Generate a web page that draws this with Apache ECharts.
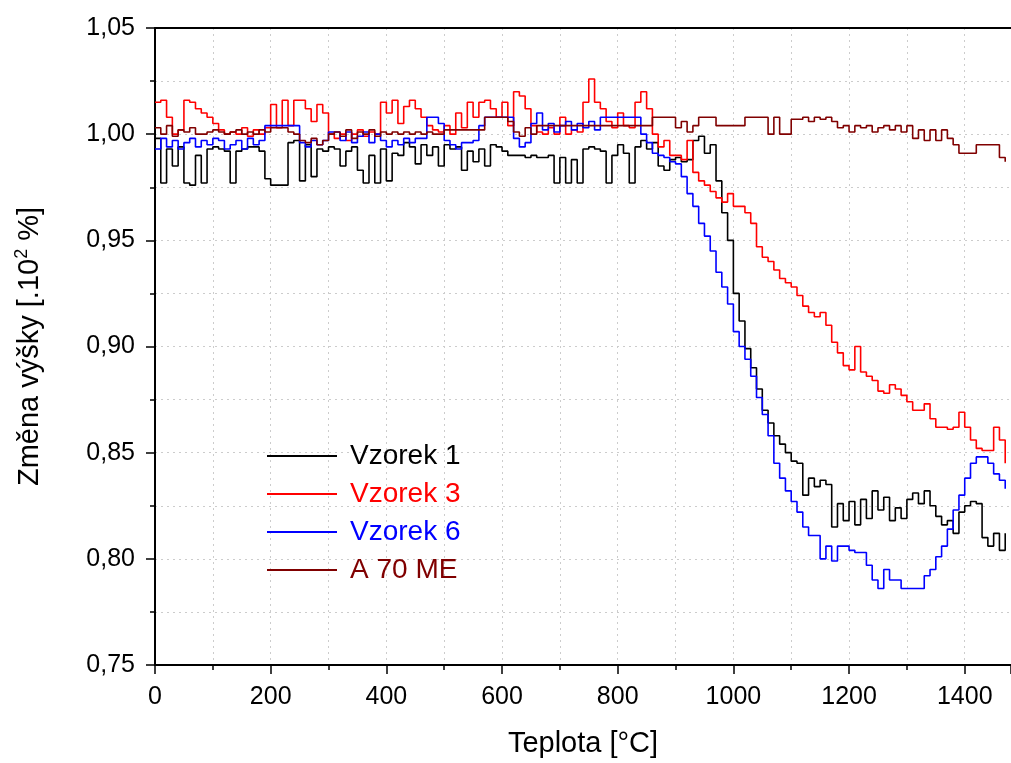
<!DOCTYPE html>
<html><head><meta charset="utf-8">
<script src="https://cdn.jsdelivr.net/npm/echarts@6/dist/echarts.min.js"></script>
<style>html,body{margin:0;padding:0;background:#fff}#c{width:1011px;height:763px}</style>
</head><body><div id="c"></div>
<script>
const temps = [0,10,20,30,40,50,60,70,80,90,100,110,120,130,140,150,160,170,180,190,200,210,220,230,240,250,260,270,280,290,300,310,320,330,340,350,360,370,380,390,400,410,420,430,440,450,460,470,480,490,500,510,520,530,540,550,560,570,580,590,600,610,620,630,640,650,660,670,680,690,700,710,720,730,740,750,760,770,780,790,800,810,820,830,840,850,860,870,880,890,900,910,920,930,940,950,960,970,980,990,1000,1010,1020,1030,1040,1050,1060,1070,1080,1090,1100,1110,1120,1130,1140,1150,1160,1170,1180,1190,1200,1210,1220,1230,1240,1250,1260,1270,1280,1290,1300,1310,1320,1330,1340,1350,1360,1370,1380,1390,1400,1410,1420,1430,1440,1450,1460,1470];

const vzorek1 = [0.998,0.977,0.993,0.985,0.994,0.977,0.976,0.990,0.977,0.993,
0.994,0.993,0.992,0.977,0.992,0.993,0.994,0.994,0.992,0.979,
0.976,0.976,0.976,0.996,0.997,0.978,0.995,0.980,0.993,0.992,
0.994,0.993,0.985,0.992,0.994,0.983,0.977,0.990,0.977,0.993,
0.978,0.991,0.990,0.996,0.994,0.986,0.995,0.990,0.994,0.985,
0.995,0.993,0.994,0.983,0.992,0.987,0.993,0.985,0.995,0.994,
0.992,0.990,0.990,0.990,0.989,0.990,0.989,0.989,0.990,0.977,
0.989,0.977,0.988,0.977,0.993,0.994,0.993,0.992,0.977,0.990,
0.995,0.991,0.977,0.994,0.997,0.993,0.996,0.985,0.983,0.988,
0.989,0.987,0.988,0.997,0.999,0.991,0.995,0.978,0.963,0.950,
0.925,0.912,0.899,0.890,0.880,0.870,0.864,0.858,0.854,0.850,
0.846,0.845,0.830,0.838,0.834,0.837,0.835,0.815,0.826,0.818,
0.827,0.816,0.828,0.819,0.832,0.823,0.829,0.818,0.824,0.819,
0.828,0.831,0.826,0.832,0.825,0.820,0.816,0.818,0.812,0.822,
0.825,0.827,0.826,0.810,0.806,0.812,0.804,0.812];

const vzorek3 = [1.015,1.016,1.008,1.000,1.002,1.016,1.015,1.012,1.010,1.008,
1.005,1.002,1.000,1.001,1.000,1.003,0.999,1.002,1.000,1.003,
1.014,1.003,1.016,1.004,1.016,1.016,1.012,1.006,1.014,1.010,
1.000,0.998,1.000,0.997,1.000,1.002,0.999,1.001,1.000,1.015,
1.010,1.016,1.005,1.013,1.016,1.012,1.008,1.004,1.002,1.001,
1.004,1.000,1.010,1.003,1.015,1.008,1.015,1.016,1.012,1.008,
1.015,1.004,1.020,1.018,1.012,1.004,1.001,1.000,1.003,1.000,
1.008,1.000,1.002,1.001,1.015,1.026,1.015,1.012,1.006,1.003,
1.010,1.004,1.003,1.015,1.020,1.012,1.000,0.994,0.997,0.990,
0.990,0.988,0.997,0.982,0.978,0.976,0.973,0.970,0.968,0.972,
0.966,0.966,0.963,0.958,0.947,0.942,0.940,0.936,0.932,0.930,
0.928,0.924,0.919,0.916,0.914,0.916,0.910,0.902,0.897,0.891,
0.889,0.900,0.888,0.886,0.884,0.879,0.878,0.882,0.880,0.877,
0.874,0.870,0.870,0.873,0.866,0.862,0.862,0.861,0.862,0.869,
0.862,0.856,0.852,0.851,0.851,0.862,0.856,0.845];

const vzorek6 = [0.993,0.998,0.994,0.997,0.993,0.996,0.998,0.994,0.997,0.995,
0.998,0.997,0.993,0.995,0.997,0.993,0.998,0.995,0.997,1.004,
1.004,1.004,1.004,1.004,1.004,0.996,0.994,0.997,0.995,0.997,
1.001,1.001,0.997,1.001,0.996,0.999,1.001,0.996,1.000,0.997,
0.994,0.997,0.995,0.998,0.996,0.998,0.998,1.008,1.008,1.005,
0.997,0.995,0.993,0.996,0.996,0.997,1.004,1.008,1.008,1.008,
1.008,1.008,0.998,0.994,0.996,1.005,1.010,1.002,1.005,1.001,
1.004,1.006,1.002,1.005,1.003,1.006,1.002,1.008,1.008,1.008,
1.008,1.008,1.008,1.008,1.000,0.996,0.991,0.990,0.989,0.987,
0.986,0.980,0.972,0.966,0.958,0.952,0.945,0.935,0.928,0.920,
0.907,0.900,0.894,0.886,0.876,0.868,0.858,0.845,0.838,0.832,
0.827,0.822,0.815,0.811,0.811,0.800,0.806,0.799,0.806,0.806,
0.804,0.803,0.803,0.797,0.790,0.786,0.795,0.790,0.790,0.786,
0.786,0.786,0.786,0.792,0.795,0.801,0.806,0.814,0.823,0.830,
0.838,0.845,0.848,0.848,0.845,0.840,0.837,0.833];

const a70me = [1.003,1.000,1.004,0.999,1.002,1.001,1.003,1.000,1.000,1.001,
1.002,1.001,1.000,1.001,1.002,1.000,1.001,1.000,1.002,1.001,
1.003,1.003,1.003,1.001,1.000,0.997,0.996,0.998,0.995,0.997,
1.000,1.001,0.999,1.002,0.998,1.001,1.000,1.002,0.999,1.001,
1.000,1.001,1.000,1.001,1.000,1.001,1.000,1.001,1.000,1.000,
1.002,1.002,1.002,1.002,1.002,1.002,1.002,1.008,1.008,1.008,
1.008,1.006,1.001,0.999,1.003,1.000,1.004,1.004,1.004,1.004,
1.004,1.004,1.004,1.004,1.004,1.004,1.004,1.004,1.004,1.004,
1.004,1.004,1.004,1.004,1.004,1.004,1.008,1.008,1.008,1.008,
1.003,1.006,1.001,1.004,1.008,1.008,1.008,1.004,1.004,1.004,
1.004,1.004,1.008,1.008,1.008,1.008,1.000,1.008,1.000,1.000,
1.007,1.007,1.008,1.006,1.008,1.007,1.008,1.006,1.003,1.004,
1.001,1.004,1.003,1.004,1.001,1.003,1.004,1.002,1.004,1.001,
1.004,0.998,1.002,0.997,1.002,0.997,1.002,0.998,0.995,0.991,
0.991,0.991,0.995,0.995,0.995,0.995,0.989,0.987];

const seriesNames = ['Vzorek 1','Vzorek 3','Vzorek 6','A 70 ME'];
const seriesColors = ['#000000','#ff0000','#0000ff','#800000'];
const seriesValues = [vzorek1, vzorek3, vzorek6, a70me];

const FONT = "'Liberation Sans', Arial, sans-serif";
const GRID = {type:[2,4], color:'#cccccc', width:1};
const chart = echarts.init(document.getElementById('c'), null, {renderer:'canvas'});
const pair = ys => temps.map((t,i)=>[t, ys[i]]);

const option = {
  animation:false,
  backgroundColor:'#fff',
  grid:{left:155, top:28, right:0, bottom:97, containLabel:false},
  legend:{
    orient:'vertical', left:262, top:437, itemWidth:70, itemHeight:2, itemGap:10, icon:'rect',
    textStyle:{fontSize:28, fontFamily:FONT, lineHeight:28, padding:[0,0,0,8]},
    data: seriesNames.map((n,i)=>({name:n, textStyle:{color:seriesColors[i]}}))
  },
  xAxis:[
    {type:'value', position:'bottom', min:0, max:1480, interval:100,
     name:'Teplota [°C]', nameLocation:'middle', nameGap:64,
     nameTextStyle:{fontSize:29, fontFamily:FONT, color:'#000'},
     axisLine:{show:true, onZero:false, lineStyle:{color:'#000', width:2}},
     axisTick:{show:true, length:5, lineStyle:{color:'#000', width:1.5}},
     axisLabel:{fontSize:25, fontFamily:FONT, color:'#000', margin:20, showMaxLabel:false,
       formatter: v => (v % 200 === 0 && v <= 1400) ? String(v) : ''},
     splitLine:{show:true, lineStyle:GRID}
    },
    {type:'value', position:'bottom', min:0, max:1480, interval:200,
     axisLine:{show:false, onZero:false},
     axisTick:{show:true, length:9, lineStyle:{color:'#000', width:1.5}},
     axisLabel:{show:false}, splitLine:{show:false}
    },
    {type:'value', position:'top', min:0, max:1480, interval:200,
     axisLine:{show:true, onZero:false, lineStyle:{color:'#000', width:2}},
     axisTick:{show:false}, axisLabel:{show:false}, splitLine:{show:false}
    }
  ],
  yAxis:{
    type:'value', min:0.75, max:1.05, interval:0.05,
    name:'{a|Změna výšky [.10}{s|2}{a| %]}', nameLocation:'middle', nameGap:108, nameRotate:90,
    nameTextStyle:{color:'#000', rich:{
      a:{fontSize:29, fontFamily:FONT, color:'#000', lineHeight:34},
      s:{fontSize:18, fontFamily:FONT, color:'#000', verticalAlign:'top', lineHeight:34}
    }},
    axisLine:{show:true, onZero:false, lineStyle:{color:'#000', width:2}},
    axisTick:{show:true, length:9, lineStyle:{color:'#000', width:1.5}},
    minorTick:{show:true, splitNumber:2, length:5, lineStyle:{color:'#000', width:1.5}},
    axisLabel:{fontSize:25, fontFamily:FONT, color:'#000', margin:20,
      formatter: v => v.toFixed(2).replace('.', ',')},
    splitLine:{show:true, lineStyle:GRID},
    minorSplitLine:{show:true, lineStyle:GRID}
  },
  series: seriesNames.map((n,i)=>({
    name:n, type:'line', xAxisIndex:0, data:pair(seriesValues[i]), step:'end',
    showSymbol:false, symbol:'none', color:seriesColors[i],
    lineStyle:{color:seriesColors[i], width:1.6}
  }))
};
chart.setOption(option);
</script></body></html>
